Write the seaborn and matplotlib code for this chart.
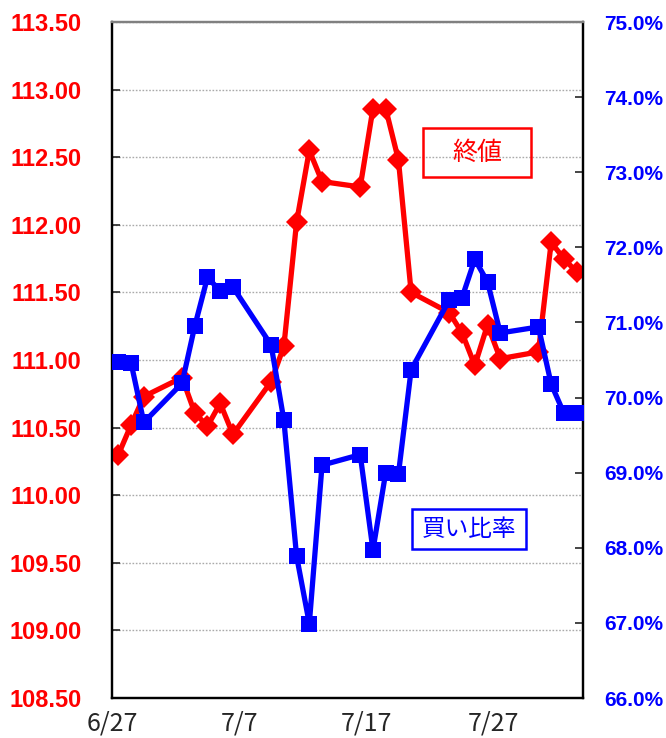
import pandas as pd
import matplotlib
matplotlib.use("Agg")
import matplotlib.pyplot as plt
import seaborn as sns
from matplotlib.patches import Rectangle

# 取引日 (2018年)
dates = [
    "2018-06-27", "2018-06-28", "2018-06-29",
    "2018-07-02", "2018-07-03", "2018-07-04", "2018-07-05", "2018-07-06",
    "2018-07-09", "2018-07-10", "2018-07-11", "2018-07-12", "2018-07-13",
    "2018-07-16", "2018-07-17", "2018-07-18", "2018-07-19", "2018-07-20",
    "2018-07-23", "2018-07-24", "2018-07-25", "2018-07-26", "2018-07-27",
    "2018-07-30", "2018-07-31", "2018-08-01", "2018-08-02",
]
close_price = [
    110.30, 110.52, 110.73,
    110.87, 110.61, 110.51, 110.68, 110.45,
    110.84, 111.10, 112.02, 112.55, 112.32,
    112.28, 112.86, 112.86, 112.48, 111.50,
    111.35, 111.20, 110.96, 111.26, 111.01,
    111.06, 111.87, 111.75, 111.65,
]
buy_ratio = [
    70.47, 70.46, 69.67,
    70.19, 70.95, 71.60, 71.42, 71.47,
    70.70, 69.70, 67.89, 66.99, 69.10,
    69.24, 67.97, 69.00, 68.98, 70.37,
    71.30, 71.33, 71.84, 71.54, 70.86,
    70.94, 70.18, 69.79, 69.79,
]
xtick_labels = ["6/27", "7/7", "7/17", "7/27"]

start = pd.Timestamp("2018-06-27")
df = pd.DataFrame({"date": pd.to_datetime(dates), "close": close_price, "ratio": buy_ratio})
df["x"] = (df["date"] - start).dt.days + 0.5

sns.set_style("white")
W, H = 666, 738
fig = plt.figure(figsize=(W / 100, H / 100), dpi=100)
ax = fig.add_axes([112 / W, 1 - 698 / H, 471 / W, 676 / H])
ax2 = ax.twinx()

red = "#ff0000"
blue = "#0000ff"

sns.lineplot(data=df, x="x", y="close", ax=ax, color=red, lw=3.8,
             marker="D", markersize=11, markeredgewidth=0, zorder=3)
sns.lineplot(data=df, x="x", y="ratio", ax=ax2, color=blue, lw=3.8,
             marker="s", markersize=11, markeredgewidth=0, zorder=3)

ax.set_xlim(0, 37)
ax.set_ylim(108.5, 113.5)
ax2.set_ylim(66, 75)

ax.set_yticks([108.5 + 0.5 * i for i in range(11)])
ax.set_yticklabels([f"{v:.2f}" for v in ax.get_yticks()])
ax2.set_yticks(list(range(66, 76)))
ax2.set_yticklabels([f"{v:.1f}%" for v in range(66, 76)])
ax.set_xticks([0, 10, 20, 30])
ax.set_xticklabels(xtick_labels)

ax.grid(axis="y", color="#aaaaaa", linestyle=(0, (1.2, 1.2)), lw=1)
ax.set_axisbelow(True)

ax.set_xlabel("")
ax.set_ylabel("")
ax2.set_ylabel("")

num_font = ["Liberation Sans Narrow", "Liberation Sans", "DejaVu Sans"]
for lab in ax.get_yticklabels():
    lab.set_color(red)
    lab.set_fontweight("bold")
    lab.set_family(num_font)
    lab.set_fontsize(17)
for lab in ax2.get_yticklabels():
    lab.set_color(blue)
    lab.set_fontweight("bold")
    lab.set_family(num_font)
    lab.set_fontsize(15)
for lab in ax.get_xticklabels():
    lab.set_family(["Noto Sans CJK JP", "DejaVu Sans"])
    lab.set_fontsize(18)

ax.tick_params(axis="y", direction="in", length=6, width=1.2, pad=22)
ax.tick_params(axis="x", direction="in", length=8, width=1.2, pad=9)
ax2.tick_params(axis="y", direction="in", length=6, width=1.2, pad=15)

for a in (ax, ax2):
    for s in a.spines.values():
        s.set_color("black")
        s.set_linewidth(1.6)
    a.spines["top"].set_color("#808080")

# 凡例ボックス
jp = ["Noto Sans CJK JP", "DejaVu Sans"]
fig.patches.append(Rectangle((423 / W, 1 - 177 / H), 108 / W, 49 / H,
                             transform=fig.transFigure, fill=False,
                             edgecolor=red, lw=1.8))
fig.text(477 / W, 1 - 153 / H, "終値", color=red, fontsize=18,
         family=jp, ha="center", va="center")
fig.patches.append(Rectangle((412 / W, 1 - 549 / H), 114 / W, 40 / H,
                             transform=fig.transFigure, fill=False,
                             edgecolor=blue, lw=1.8))
fig.text(469 / W, 1 - 530 / H, "買い比率", color=blue, fontsize=17,
         family=jp, ha="center", va="center")

fig.savefig("out.png", dpi=100)
